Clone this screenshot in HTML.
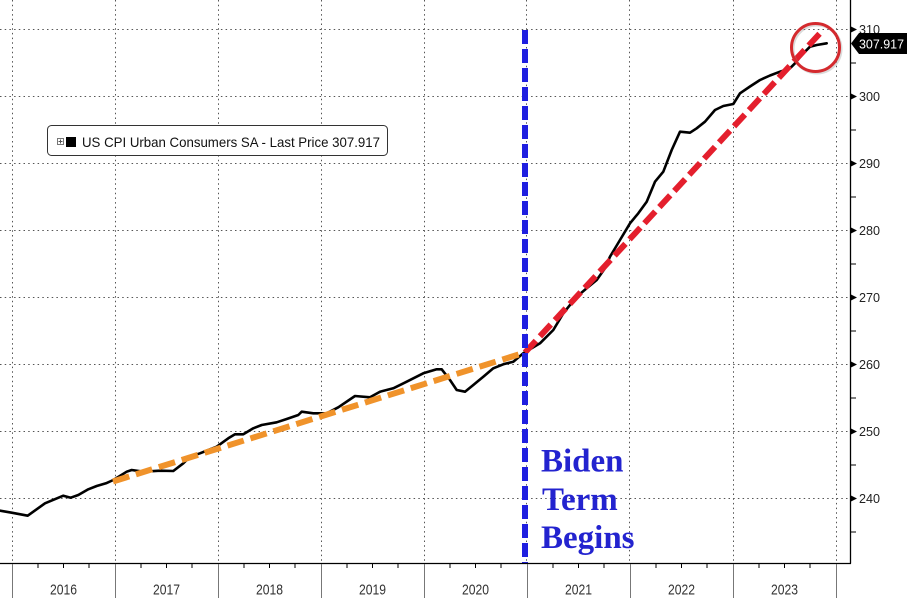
<!DOCTYPE html>
<html><head><meta charset="utf-8"><style>
html,body{margin:0;padding:0;background:#fff;}
svg{display:block;}
</style></head><body>
<svg width="907" height="598" viewBox="0 0 907 598" xmlns="http://www.w3.org/2000/svg" font-family="Liberation Sans, Arial, sans-serif">
<rect width="907" height="598" fill="#fff"/>
<!-- horizontal grid -->
<g stroke="#555" stroke-width="1" stroke-dasharray="1.5,3.2">
<line x1="0" y1="29.5" x2="850" y2="29.5"/>
<line x1="0" y1="96.5" x2="850" y2="96.5"/>
<line x1="0" y1="163.5" x2="850" y2="163.5"/>
<line x1="0" y1="230.5" x2="850" y2="230.5"/>
<line x1="0" y1="297.5" x2="850" y2="297.5"/>
<line x1="0" y1="364.5" x2="850" y2="364.5"/>
<line x1="0" y1="431.5" x2="850" y2="431.5"/>
<line x1="0" y1="498.5" x2="850" y2="498.5"/>
</g>
<!-- vertical grid -->
<g stroke="#555" stroke-width="1" stroke-dasharray="1.5,3.2">
<line x1="12.5" y1="0" x2="12.5" y2="563"/>
<line x1="115.5" y1="0" x2="115.5" y2="563"/>
<line x1="218.5" y1="0" x2="218.5" y2="563"/>
<line x1="321.5" y1="0" x2="321.5" y2="563"/>
<line x1="424.5" y1="0" x2="424.5" y2="563"/>
<line x1="526.5" y1="0" x2="526.5" y2="563"/>
<line x1="629.5" y1="0" x2="629.5" y2="563"/>
<line x1="733.5" y1="0" x2="733.5" y2="563"/>
<line x1="836.5" y1="0" x2="836.5" y2="563"/>
</g>
<!-- legend -->
<rect x="47.5" y="125.5" width="340" height="30" rx="4" ry="4" fill="#fff" stroke="#333" stroke-width="1"/>
<rect x="57.5" y="138.5" width="6" height="6" fill="#fff" stroke="#777" stroke-width="1"/>
<line x1="58.5" y1="141.5" x2="62.5" y2="141.5" stroke="#555" stroke-width="1"/>
<line x1="60.5" y1="139.5" x2="60.5" y2="143.5" stroke="#555" stroke-width="1"/>
<rect x="66" y="137" width="10" height="10" fill="#000"/>
<text x="82" y="147" font-size="14" fill="#111" textLength="298" lengthAdjust="spacingAndGlyphs">US CPI Urban Consumers SA - Last Price 307.917</text>
<!-- data line -->
<polyline fill="none" stroke="#000" stroke-width="2.6" stroke-linejoin="round" stroke-linecap="round" points="
0,510.7 11.7,512.7 27.7,515.7 45,503.3 63.3,495.7 70.7,497.7 78.3,495 88.3,489.3 96.7,486 106,483.3 113.3,480
126.7,471.7 131.7,470 143.3,471.7 160,470.7 173.3,471 183.3,463.3 190,456.7 200,453.3 208.3,450 216.7,446.7
228.3,438.3 235,434.3 243.3,434.3 253.3,428.3 261.7,425 276.7,422.3 286.7,419 298.3,415 301.7,411.7
313.3,413.3 326.7,413.3 338.3,407.3 355,396 370,397.3 380,391.7 393.3,388.3 406.7,381.7 423.3,373.3
436.7,369.3 441.7,369.3 450,380 456.7,390 465,391.7 473.3,385 483.3,376.7 493.3,368.3 503.3,364.3
513.3,361.7 523.3,353.3 540,343.3 553.3,330 563.3,313.3 576.7,296.7 586.7,288.3 596.7,280 605,268.3
610,256.7 620,240 630,223.3 638.3,213.3 646.7,201.7 655,181.7 663.3,171.7 671.7,150 680,131.7
690,132.7 696.7,128.3 705,121.7 715,110 723.3,106 733.3,104 740,93.3 750,86.5 760,80 770,75.5
780,71.7 790,68.3 795,63.3 801.7,55 810,46.7 816.7,45 826.7,43.3"/>
<!-- orange trend -->
<line x1="113" y1="481.5" x2="525" y2="352.5" stroke="#f0932b" stroke-width="6" stroke-dasharray="17,7"/>
<!-- red trend -->
<line x1="525" y1="352.5" x2="823" y2="30" stroke="#e41f2d" stroke-width="6" stroke-dasharray="16,6"/>
<!-- circle -->
<circle cx="817" cy="49" r="24" fill="none" stroke="#999" stroke-opacity="0.35" stroke-width="3"/>
<circle cx="815.5" cy="47.5" r="24" fill="none" stroke="#d42a2e" stroke-width="3"/>
<!-- blue vertical -->
<line x1="525" y1="30" x2="525" y2="563" stroke="#1f1fe0" stroke-width="6" stroke-dasharray="14,5"/>
<!-- biden text -->
<g font-family="Liberation Serif, Times New Roman, serif" font-weight="bold" font-size="33" fill="#2323cf">
<text x="541" y="471.5">Biden</text>
<text x="542" y="510">Term</text>
<text x="541" y="548">Begins</text>
</g>
<!-- axes -->
<line x1="850.5" y1="0" x2="850.5" y2="563.5" stroke="#000" stroke-width="1.3"/>
<line x1="0" y1="563.5" x2="851" y2="563.5" stroke="#000" stroke-width="1.3"/>
<!-- right ticks -->
<g fill="#000">
<polygon points="851,26.5 857,29.5 851,32.5"/>
<polygon points="851,93.5 857,96.5 851,99.5"/>
<polygon points="851,160.5 857,163.5 851,166.5"/>
<polygon points="851,227.5 857,230.5 851,233.5"/>
<polygon points="851,294.5 857,297.5 851,300.5"/>
<polygon points="851,361.5 857,364.5 851,367.5"/>
<polygon points="851,428.5 857,431.5 851,434.5"/>
<polygon points="851,495.5 857,498.5 851,501.5"/>
</g>
<g stroke="#000" stroke-width="1">
<line x1="851" y1="63" x2="856" y2="63"/>
<line x1="851" y1="130" x2="856" y2="130"/>
<line x1="851" y1="197" x2="856" y2="197"/>
<line x1="851" y1="264" x2="856" y2="264"/>
<line x1="851" y1="331" x2="856" y2="331"/>
<line x1="851" y1="398" x2="856" y2="398"/>
<line x1="851" y1="465" x2="856" y2="465"/>
<line x1="851" y1="532" x2="856" y2="532"/>
</g>
<g font-size="12.5" fill="#222">
<text x="859" y="34" textLength="21" lengthAdjust="spacingAndGlyphs">310</text>
<text x="859" y="101" textLength="21" lengthAdjust="spacingAndGlyphs">300</text>
<text x="859" y="168" textLength="21" lengthAdjust="spacingAndGlyphs">290</text>
<text x="859" y="235" textLength="21" lengthAdjust="spacingAndGlyphs">280</text>
<text x="859" y="302" textLength="21" lengthAdjust="spacingAndGlyphs">270</text>
<text x="859" y="369" textLength="21" lengthAdjust="spacingAndGlyphs">260</text>
<text x="859" y="436" textLength="21" lengthAdjust="spacingAndGlyphs">250</text>
<text x="859" y="503" textLength="21" lengthAdjust="spacingAndGlyphs">240</text>
</g>
<!-- last price label -->
<polygon points="851,43.5 859,33 907,33 907,54 859,54" fill="#000"/>
<text x="859" y="48.5" font-size="12.5" fill="#fff" textLength="45" lengthAdjust="spacingAndGlyphs">307.917</text>
<!-- bottom axis ticks -->
<g stroke="#777" stroke-width="1">
<line x1="12.5" y1="564" x2="12.5" y2="598"/>
<line x1="115.5" y1="564" x2="115.5" y2="598"/>
<line x1="218.5" y1="564" x2="218.5" y2="598"/>
<line x1="321.5" y1="564" x2="321.5" y2="598"/>
<line x1="424.5" y1="564" x2="424.5" y2="598"/>
<line x1="527.5" y1="564" x2="527.5" y2="598"/>
<line x1="630.5" y1="564" x2="630.5" y2="598"/>
<line x1="733.5" y1="564" x2="733.5" y2="598"/>
<line x1="836.5" y1="564" x2="836.5" y2="598"/>
</g>
<g stroke="#000" stroke-width="1">
<line x1="38" y1="564" x2="38" y2="568"/><line x1="63.5" y1="564" x2="63.5" y2="568"/><line x1="89" y1="564" x2="89" y2="568"/>
<line x1="141" y1="564" x2="141" y2="568"/><line x1="166.5" y1="564" x2="166.5" y2="568"/><line x1="192" y1="564" x2="192" y2="568"/>
<line x1="244" y1="564" x2="244" y2="568"/><line x1="269.5" y1="564" x2="269.5" y2="568"/><line x1="295" y1="564" x2="295" y2="568"/>
<line x1="347" y1="564" x2="347" y2="568"/><line x1="372.5" y1="564" x2="372.5" y2="568"/><line x1="398" y1="564" x2="398" y2="568"/>
<line x1="450" y1="564" x2="450" y2="568"/><line x1="475.5" y1="564" x2="475.5" y2="568"/><line x1="501" y1="564" x2="501" y2="568"/>
<line x1="553" y1="564" x2="553" y2="568"/><line x1="578.5" y1="564" x2="578.5" y2="568"/><line x1="604" y1="564" x2="604" y2="568"/>
<line x1="656" y1="564" x2="656" y2="568"/><line x1="681.5" y1="564" x2="681.5" y2="568"/><line x1="707" y1="564" x2="707" y2="568"/>
<line x1="759" y1="564" x2="759" y2="568"/><line x1="784.5" y1="564" x2="784.5" y2="568"/><line x1="810" y1="564" x2="810" y2="568"/>
</g>
<g font-size="15" fill="#333" text-anchor="middle">
<text x="63.5" y="594.5" textLength="27" lengthAdjust="spacingAndGlyphs">2016</text>
<text x="166.5" y="594.5" textLength="27" lengthAdjust="spacingAndGlyphs">2017</text>
<text x="269.5" y="594.5" textLength="27" lengthAdjust="spacingAndGlyphs">2018</text>
<text x="372.5" y="594.5" textLength="27" lengthAdjust="spacingAndGlyphs">2019</text>
<text x="475.5" y="594.5" textLength="27" lengthAdjust="spacingAndGlyphs">2020</text>
<text x="578.5" y="594.5" textLength="27" lengthAdjust="spacingAndGlyphs">2021</text>
<text x="681.5" y="594.5" textLength="27" lengthAdjust="spacingAndGlyphs">2022</text>
<text x="784.5" y="594.5" textLength="27" lengthAdjust="spacingAndGlyphs">2023</text>
</g>
</svg>
</body></html>
